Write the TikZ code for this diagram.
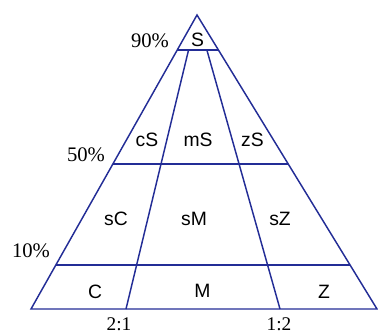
\documentclass[tikz,border=0pt]{standalone}
\usepackage{fontspec}
\setmainfont{Liberation Serif}
\newfontfamily\cellfont{Liberation Sans}
\definecolor{trinavy}{RGB}{35,45,150}

\begin{document}
\begin{tikzpicture}[x=0.75pt,y=-0.75pt,
    edge/.style={trinavy,line width=1.1pt},
    cell/.style={font=\cellfont\fontsize{14.5}{17}\selectfont,inner sep=0pt},
    pct/.style={font=\fontsize{15.5}{18}\selectfont,inner sep=0pt},
    ratio/.style={font=\fontsize{14.5}{17}\selectfont,inner sep=0pt}]

        \useasboundingbox (0,0) rectangle (378,335);

        % Corners
        \coordinate (apex) at (197,15);
        \coordinate (cl) at (31,309);
        \coordinate (zr) at (377,309);
        \coordinate (r21) at (126,309);
        \coordinate (r12) at (280,309);

        % Points on the sides
        \path (apex) -- (cl) coordinate[pos=0.119] (l90) coordinate[pos=0.507] (l50) coordinate[pos=0.850] (l10);
        \path (apex) -- (zr) coordinate[pos=0.119] (z90) coordinate[pos=0.507] (z50) coordinate[pos=0.850] (z10);
        \path (apex) -- (r21) coordinate[pos=0.119] (a90);
        \path (apex) -- (r12) coordinate[pos=0.119] (b90);

        % Triangle
        \draw[edge] (apex) -- (cl) -- (zr) -- cycle;

        % Levels
        \draw[edge] (l90) -- (z90);
        \draw[edge] (l50) -- (z50);
        \draw[edge] (l10) -- (z10);

        % Ratio lines
        \draw[edge] (a90) -- (r21);
        \draw[edge] (b90) -- (r12);

        % Percentages
        \node[pct] (p90) at (150,41) {90\%};
        \node[pct] (p50) at (86,155) {50\%};
        \node[pct] (p10) at (31,251) {10\%};
        \node[ratio] (q21) at (119,324.5) {2:1};
        \node[ratio] (q12) at (279,324.5) {1:2};

        % Labels
        \node[cell] (nS) at (197.5,40) {S};
        \node[cell] (ncS) at (147,139.5) {cS};
        \node[cell] (nmS) at (198,139.5) {mS};
        \node[cell] (nzS) at (252.5,139.5) {zS};
        \node[cell] (nsC) at (116,218.5) {sC};
        \node[cell] (nsM) at (194,218.5) {sM};
        \node[cell] (nsZ) at (280,218.5) {sZ};
        \node[cell] (nC) at (95,291.5) {C};
        \node[cell] (nM) at (202.5,290.5) {M};
        \node[cell] (nZ) at (324,291.5) {Z};

    \end{tikzpicture}
\end{document}
